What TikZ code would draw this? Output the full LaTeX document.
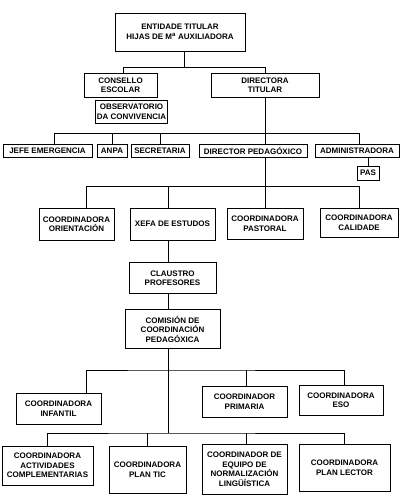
\documentclass[tikz,border=0pt]{standalone}
\usepackage{fontspec}
\setmainfont{Liberation Sans}
\usepackage{tikz}
\usetikzlibrary{positioning,calc}
\tikzset{
    caixa/.style={
        rectangle,
        draw,
        line width=0.8pt,
        align=center,
        inner sep=1pt,
        font=\bfseries\fontsize{8}{9.5}\selectfont
    },
    ligazon/.style={line width=1pt}
}

\begin{document}
\begin{tikzpicture}[x=1pt, y=-1pt, node distance=15pt]
        \useasboundingbox (0,0) rectangle (402,500);

        % cabeceira
        \node[caixa, minimum width=130pt, minimum height=38pt] (entidade) at (180,32)
            {ENTIDADE TITULAR\\HIJAS DE M\textsuperscript{a} AUXILIADORA};
        \node[caixa, minimum width=73pt, minimum height=24pt] (consello) at (120.5,85)
            {CONSELLO\\ESCOLAR};
        \node[caixa, minimum width=108pt, minimum height=24pt] (directora) at (265,85)
            {DIRECTORA\\TITULAR};
        \node[caixa, minimum width=71pt, minimum height=23pt] (observatorio) at (131.5,111.5)
            {OBSERVATORIO\\DA CONVIVENCIA};

        % segunda fila
        \node[caixa, minimum width=89pt, minimum height=13pt] (jefe) at (47.5,150.5) {JEFE EMERGENCIA};
        \node[caixa, minimum width=30pt, minimum height=13pt] (anpa) at (112,150.5) {ANPA};
        \node[caixa, minimum width=58pt, minimum height=13pt] (secretaria) at (160,150.5) {SECRETARIA};
        \node[caixa, minimum width=108pt, minimum height=13pt] (dped) at (253,150.5) {DIRECTOR PEDAGÓXICO};
        \node[caixa, minimum width=84pt, minimum height=13pt] (admin) at (357,150.5) {ADMINISTRADORA};
        \node[caixa, minimum width=22pt, minimum height=14pt] (pas) at (368,173) {PAS};

        % coordinadoras
        \node[caixa, minimum width=75pt, minimum height=32pt] (orient) at (76.5,224)
            {COORDINADORA\\ORIENTACIÓN};
        \node[caixa, minimum width=85pt, minimum height=32pt] (xefa) at (172.5,224)
            {XEFA DE ESTUDOS};
        \node[caixa, minimum width=76pt, minimum height=31pt] (pastoral) at (265,223.5)
            {COORDINADORA\\PASTORAL};
        \node[caixa, minimum width=78pt, minimum height=29pt] (calidade) at (359,222.5)
            {COORDINADORA\\CALIDADE};

        \node[caixa, minimum width=87pt, minimum height=31pt, below=22pt of xefa] (claustro)
            {CLAUSTRO\\PROFESORES};
        \node[caixa, minimum width=95pt, minimum height=39pt, below=of claustro] (comision)
            {COMISIÓN DE\\COORDINACIÓN\\PEDAGÓXICA};

        % etapas
        \node[caixa, minimum width=85pt, minimum height=31pt] (infantil) at (58.5,408.5)
            {COORDINADORA\\INFANTIL};
        \node[caixa, minimum width=85pt, minimum height=31pt] (primaria) at (244.5,401.5)
            {COORDINADOR\\PRIMARIA};
        \node[caixa, minimum width=84pt, minimum height=30pt] (eso) at (341,400)
            {COORDINADORA\\ESO};

        % fila inferior
        \node[caixa, minimum width=91pt, minimum height=39pt] (activ) at (47.5,465.5)
            {COORDINADORA\\ACTIVIDADES\\COMPLEMENTARIAS};
        \node[caixa, minimum width=77pt, minimum height=47pt] (plantic) at (147.5,469.5)
            {COORDINADORA\\PLAN TIC};
        \node[caixa, minimum width=85pt, minimum height=50pt] (normal) at (244.5,469)
            {COORDINADOR DE\\EQUIPO DE\\NORMALIZACIÓN\\LINGÜÍSTICA};
        \node[caixa, minimum width=91pt, minimum height=47pt] (lector) at (344.5,467.5)
            {COORDINADORA\\PLAN LECTOR};

        % ligazons
        \draw[ligazon] ([xshift=4pt]entidade.south) -- ++(0,16) coordinate (r1);
        \draw[ligazon] ([xshift=2.5pt]consello.north) |- (r1) -| (directora.north);

        \draw[ligazon] (directora.south) -- ++(0,36) coordinate (r2);
        \draw[ligazon] ([xshift=6.5pt]jefe.north) |- (r2) -| ([xshift=2pt]admin.north);
        \draw[ligazon] (anpa.north) -- (anpa.north |- r2);
        \draw[ligazon] (secretaria.north) -- (secretaria.north |- r2);
        \draw[ligazon] (r2) -- (r2 |- dped.north);
        \draw[ligazon] (admin.south -| pas.north) -- (pas.north);

        \coordinate (r3) at ([yshift=21pt]pastoral.north);
        \draw[ligazon] (r2 |- dped.south) -- (pastoral.north);
        \draw[ligazon] ([xshift=9.5pt]orient.north) |- (r3) -| ([xshift=0pt]calidade.north);
        \draw[ligazon] ([xshift=-4.5pt]xefa.north) -- ([xshift=-4.5pt]xefa.north |- r3);

        \coordinate (eixo) at ([xshift=-4.5pt]xefa.south);
        \draw[ligazon] (eixo) -- (eixo |- claustro.north);
        \draw[ligazon] (eixo |- claustro.south) -- (eixo |- comision.north);
        \path (eixo |- comision.south) ++(0,21) coordinate (r4) ++(0,63) coordinate (r5);
        \draw[ligazon] (eixo |- comision.south) -- (r5);
        \draw[ligazon] ([xshift=27.5pt]infantil.north) |- (r4) -| ([xshift=3pt]eso.north);
        \draw[ligazon] ([xshift=1.5pt]primaria.north) -- ([xshift=1.5pt]primaria.north |- r4);

        \draw[ligazon] (activ.north) |- (r5) -| (lector.north);
        \draw[ligazon] (plantic.north) -- (plantic.north |- r5);
        \draw[ligazon] ([xshift=1.5pt]normal.north) -- ([xshift=1.5pt]normal.north |- r5);
    \end{tikzpicture}
\end{document}
